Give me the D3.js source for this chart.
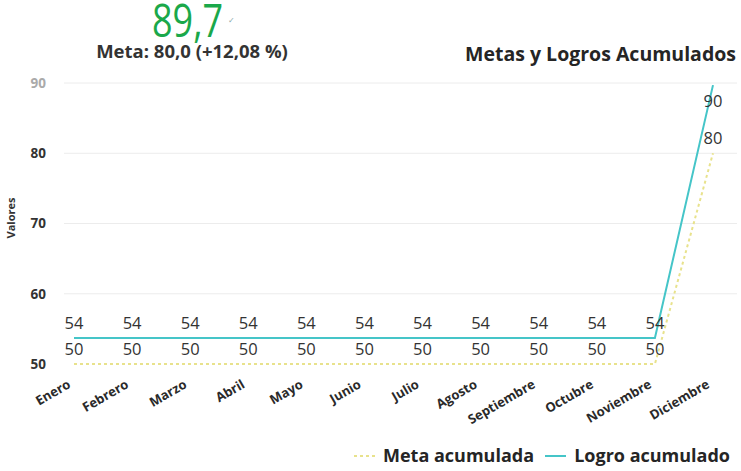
<!DOCTYPE html>
<html>
<head>
<meta charset="utf-8">
<script src="https://cdn.jsdelivr.net/npm/d3@7"></script>
<style>
  body { margin: 0; background: #fff; }
  svg { font-family: "Open Sans", sans-serif; }
</style>
</head>
<body>
<svg id="chart"></svg>
<script>
var meses = ["Enero", "Febrero", "Marzo", "Abril", "Mayo", "Junio", "Julio",
  "Agosto", "Septiembre", "Octubre", "Noviembre", "Diciembre"];
var metaAcumulada = [50, 50, 50, 50, 50, 50, 50, 50, 50, 50, 50, 80];
var logroAcumulado = [53.7, 53.7, 53.7, 53.7, 53.7, 53.7, 53.7, 53.7, 53.7, 53.7, 53.7, 89.7];
var yTicks = [50, 60, 70, 80, 90];

var kpiValor = "89,7";
var kpiMeta = "Meta: 80,0 (+12,08 %)";

var width = 741, height = 471;

var svg = d3.select("#chart")
  .attr("width", width)
  .attr("height", height);

var x = d3.scalePoint()
  .domain(meses)
  .range([74, 713]);

var y = d3.scaleLinear()
  .domain([50, 90])
  .range([364, 83]);

// kpi arriba
svg.append("text")
  .attr("x", 152)
  .attr("y", 37)
  .attr("fill", "#1aa84a")
  .style("font-size", "46px")
  .attr("textLength", 71)
  .attr("lengthAdjust", "spacingAndGlyphs")
  .text(kpiValor);

svg.append("text")
  .attr("x", 228)
  .attr("y", 23)
  .attr("fill", "#8aa")
  .style("font-size", "8px")
  .text("\u2713");

svg.append("text")
  .attr("x", 192)
  .attr("y", 58)
  .attr("text-anchor", "middle")
  .attr("fill", "#333")
  .style("font-size", "18.5px")
  .style("font-weight", "bold")
  .text(kpiMeta);

// titulo
svg.append("text")
  .attr("x", 736)
  .attr("y", 61)
  .attr("text-anchor", "end")
  .attr("fill", "#252525")
  .style("font-size", "19.5px")
  .style("font-weight", "bold")
  .text("Metas y Logros Acumulados");

// grid
svg.selectAll(".grid")
  .data(yTicks.slice(1))
  .enter()
  .append("line")
  .attr("class", "grid")
  .attr("x1", 64)
  .attr("x2", 737)
  .attr("y1", function (d) { return y(d); })
  .attr("y2", function (d) { return y(d); })
  .attr("stroke", "#ececec")
  .attr("stroke-width", 1);

// eje y
var yAxis = svg.append("g")
  .attr("transform", "translate(46,0)")
  .call(d3.axisLeft(y).tickValues(yTicks).tickSize(0).tickPadding(0));
yAxis.select(".domain").remove();
yAxis.selectAll("text")
  .style("font-family", "Open Sans, sans-serif")
  .style("font-size", "13.5px")
  .style("font-weight", "bold")
  .attr("fill", function (d) { return d == 90 ? "#aaa" : "#333"; });

svg.append("text")
  .attr("transform", "translate(15,218) rotate(-90)")
  .attr("text-anchor", "middle")
  .attr("fill", "#333")
  .style("font-size", "11px")
  .style("font-weight", "bold")
  .text("Valores");

// eje x
var xAxis = svg.append("g")
  .attr("transform", "translate(0,374)")
  .call(d3.axisBottom(x).tickSize(0).tickPadding(0));
xAxis.select(".domain").remove();
xAxis.selectAll("text")
  .style("font-family", "Open Sans, sans-serif")
  .style("font-size", "13px")
  .style("font-weight", "bold")
  .attr("fill", "#2a2a2a")
  .attr("text-anchor", "end")
  .attr("y", 0)
  .attr("dy", 0)
  .attr("transform", "translate(-3,13) rotate(-30)");

// lineas
var linea = function (vals) {
  return d3.line()
    .x(function (d, i) { return x(meses[i]); })
    .y(function (d) { return y(d); })(vals);
};

svg.append("path")
  .attr("d", linea(metaAcumulada))
  .attr("fill", "none")
  .attr("stroke", "#e8e28c")
  .attr("stroke-width", 2)
  .attr("stroke-dasharray", "3,3");

svg.append("path")
  .attr("d", linea(logroAcumulado))
  .attr("fill", "none")
  .attr("stroke", "#45c5c8")
  .attr("stroke-width", 2);

// etiquetas de datos
function etiquetas(vals) {
  svg.append("g")
    .selectAll("text")
    .data(vals)
    .enter()
    .append("text")
    .attr("x", function (d, i) { return x(meses[i]); })
    .attr("y", function (d) {
      var py = y(d);
      return py - 15 < y.range()[1] ? py + 22 : py - 9;
    })
    .attr("text-anchor", "middle")
    .attr("fill", "#333")
    .style("font-size", "16.5px")
    .text(function (d) { return d3.format(".0f")(d); });
}
etiquetas(logroAcumulado);
etiquetas(metaAcumulada);

// leyenda
var leyenda = svg.append("g").attr("transform", "translate(0,456)");
leyenda.append("line")
  .attr("x1", 354).attr("x2", 377)
  .attr("stroke", "#e8e28c").attr("stroke-width", 2)
  .attr("stroke-dasharray", "3,3");
leyenda.append("text")
  .attr("x", 383).attr("y", 6)
  .attr("fill", "#252525")
  .style("font-size", "18px")
  .style("font-weight", "bold")
  .text("Meta acumulada");
leyenda.append("line")
  .attr("x1", 545).attr("x2", 566)
  .attr("stroke", "#45c5c8").attr("stroke-width", 2);
leyenda.append("text")
  .attr("x", 730).attr("y", 6)
  .attr("text-anchor", "end")
  .attr("fill", "#252525")
  .style("font-size", "18px")
  .style("font-weight", "bold")
  .text("Logro acumulado");
</script>
</body>
</html>
